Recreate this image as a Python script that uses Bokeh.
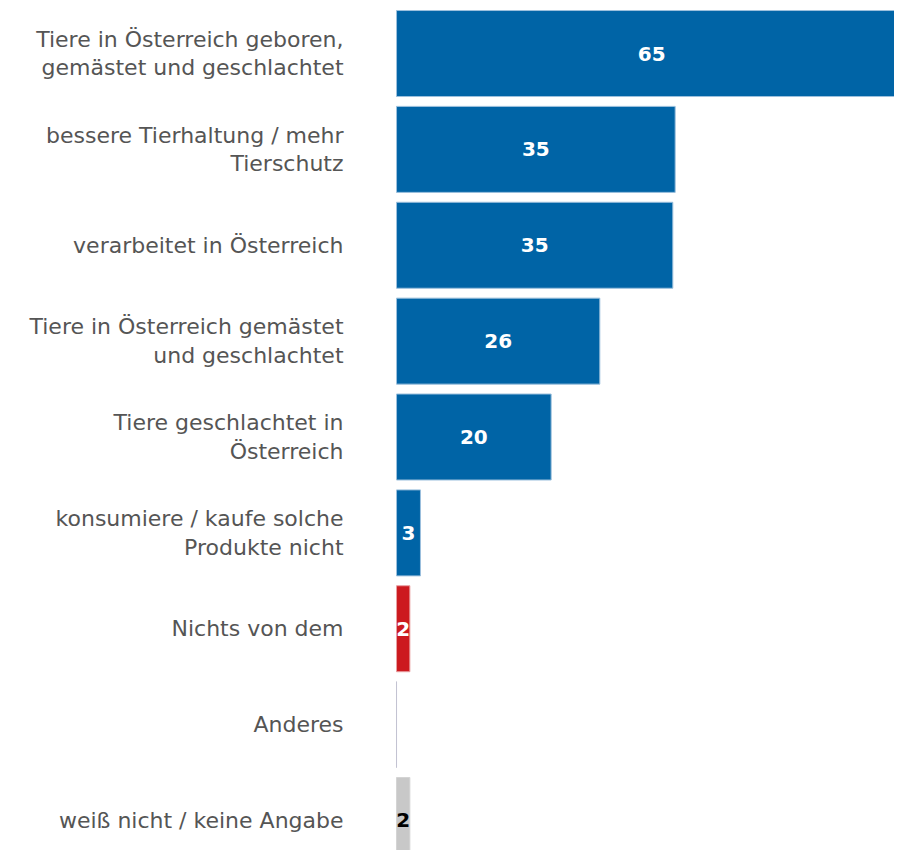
from bokeh.plotting import figure
from bokeh.models import ColumnDataSource, Range1d
from bokeh.core.properties import value
from bokeh.embed import file_html
from bokeh.resources import INLINE

categories = [
    "Tiere in Österreich geboren,\ngemästet und geschlachtet",
    "bessere Tierhaltung / mehr\nTierschutz",
    "verarbeitet in Österreich",
    "Tiere in Österreich gemästet\nund geschlachtet",
    "Tiere geschlachtet in\nÖsterreich",
    "konsumiere / kaufe solche\nProdukte nicht",
    "Nichts von dem",
    "Anderes",
    "weiß nicht / keine Angabe",
]
values = [65, 35.5, 35.2, 25.9, 19.7, 3.05, 1.7, 0, 1.7]
value_labels = ["65", "35", "35", "26", "20", "3", "2", "", "2"]
bar_colors = ["#0064a6"] * 6 + ["#cc1a1f", "#c8c8c8", "#c8c8c8"]
edge_colors = ["#9cc0dd"] * 6 + ["#e8a0a2", "#c4c4d2", "#d4d4d4"]
label_colors = ["white"] * 7 + ["black", "black"]

idx = list(range(len(categories)))
src = ColumnDataSource(dict(
    y=idx,
    v=values,
    half=[v / 2 for v in values],
    cat=categories,
    lab=value_labels,
    bc=bar_colors,
    ec=edge_colors,
    lc=label_colors,
))

W, H = 894, 850
p = figure(width=W, height=H, output_backend="svg", toolbar_location=None,
           x_range=Range1d(-50.45, 63.44), y_range=Range1d(8.313, -0.553),
           min_border=0, outline_line_color=None)
p.axis.visible = False
p.grid.visible = False
p.background_fill_color = "white"
p.border_fill_color = "white"

p.hbar(y="y", left=0, right="v", height=0.897, source=src,
       fill_color="bc", line_color="ec", line_width=1)

p.text(x=0, y="y", text="cat", source=src, x_offset=-53,
       text_align="right", text_baseline="middle",
       text_font=value("DejaVu Sans"), text_font_size="22px",
       text_color="#555555", text_line_height=1.15)

p.text(x="half", y="y", text="lab", source=src,
       text_align="center", text_baseline="middle",
       text_font=value("DejaVu Sans"), text_font_style="bold",
       text_font_size="20px", text_color="lc")

open("out.html", "w").write(file_html(p, INLINE))
